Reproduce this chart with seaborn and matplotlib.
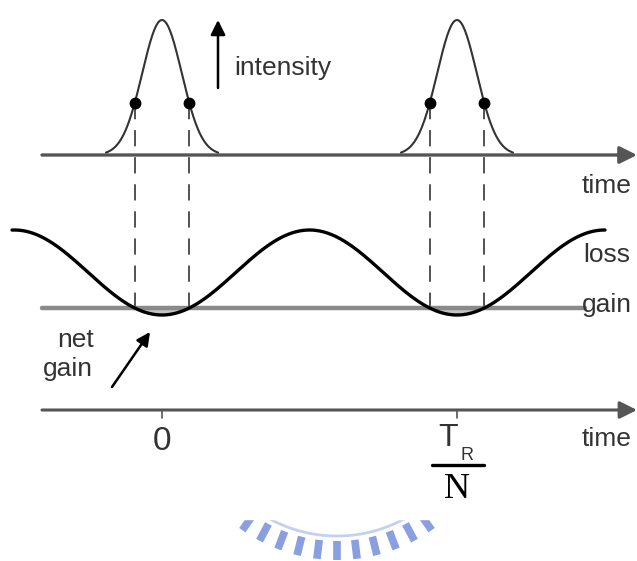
import numpy as np
import pandas as pd
import seaborn as sns
import matplotlib.pyplot as plt
from matplotlib.patches import Rectangle

# pulse train: pulse centres in units of T_R/N
pulse_times = [0.0, 1.0]
pulse_sigma = 0.067          # gaussian width (same units)
pulse_half_span = 0.19       # drawn part of each pulse
gain_cross = 0.093           # where loss == gain (dots / dashed lines)
tick_times = [0.0, 1.0]
tick_labels = ["0", "T_R/N"]

sns.set_theme(style="white")
plt.rcParams['font.family'] = ['Liberation Sans', 'DejaVu Sans']

fig = plt.figure(figsize=(6.37, 5.61), dpi=100)
ax = fig.add_axes([0, 0, 1, 1])
x0, scale = 162, 295  # pixel of t=0, pixels per T_R/N
ax.set_xlim((0 - x0) / scale, (637 - x0) / scale)
ax.set_ylim(561, 0)
ax.axis('off')

def t(px):
    return (px - x0) / scale

top_base, pulse_h = 155, 135
loss_mid, loss_amp = 272.5, 42.5
gain_y = loss_mid + loss_amp * np.cos(2 * np.pi * gain_cross)
time_y = 410

# pulses
rows = []
for i, tc in enumerate(pulse_times):
    tt = np.linspace(tc - pulse_half_span, tc + pulse_half_span, 200)
    inten = np.exp(-(tt - tc) ** 2 / (2 * pulse_sigma ** 2))
    rows.append(pd.DataFrame({"t": tt, "y": top_base - pulse_h * inten, "pulse": i}))
pulses = pd.concat(rows)
sns.lineplot(data=pulses, x="t", y="y", units="pulse", estimator=None,
             color="#333333", lw=1.5, ax=ax, zorder=3)

# top time axis
ax.annotate("", xy=(t(637), top_base), xytext=(t(42), top_base),
            arrowprops=dict(arrowstyle="-|>", color="#555555", lw=2.4,
                            mutation_scale=26, shrinkA=0, shrinkB=0), zorder=2)

# dots and dashed lines
dot_t = [tc + s * gain_cross for tc in pulse_times for s in (-1, 1)]
dot_i = np.exp(-gain_cross ** 2 / (2 * pulse_sigma ** 2))
dot_y = top_base - pulse_h * dot_i
for d in dot_t:
    ax.plot([d, d], [dot_y, gain_y], color="#444444", lw=1.3,
            dashes=(9, 6), zorder=2)
ax.plot(dot_t, [dot_y] * len(dot_t), 'o', color="black", ms=7.5, zorder=4)

# loss modulation
tl = np.linspace(t(12), t(605), 600)
loss = pd.DataFrame({"t": tl, "y": loss_mid + loss_amp * np.cos(2 * np.pi * tl)})
sns.lineplot(data=loss, x="t", y="y", color="black", lw=2.4, ax=ax, zorder=4)
ax.fill_between(tl, gain_y, loss["y"], where=loss["y"] > gain_y,
                color="#c4c4c4", zorder=2)

# gain level
ax.plot([t(42), t(585)], [gain_y, gain_y], color="#8a8a8a", lw=3.2, zorder=3)

# bottom time axis
ax.annotate("", xy=(t(637), time_y), xytext=(t(42), time_y),
            arrowprops=dict(arrowstyle="-|>", color="#555555", lw=2.2,
                            mutation_scale=26, shrinkA=0, shrinkB=0), zorder=2)
for tk in tick_times:
    ax.plot([tk, tk], [time_y, time_y + 8], color="#555555", lw=1.2)

# intensity arrow
ax.annotate("", xy=(t(218), 20), xytext=(t(218), 88),
            arrowprops=dict(arrowstyle="-|>", color="black", lw=1.8,
                            mutation_scale=22, shrinkA=0, shrinkB=0))
ax.text(t(234), 68, "intensity", fontsize=19, color="#333333", va="center", ha="left")

# net gain arrow
ax.annotate("", xy=(t(150), 332), xytext=(t(112), 387),
            arrowprops=dict(arrowstyle="-|>", color="black", lw=1.8,
                            mutation_scale=20, shrinkA=0, shrinkB=0))
ax.text(t(76), 340, "net", fontsize=19, color="#333333", ha="center", va="center")
ax.text(t(68), 369, "gain", fontsize=19, color="#333333", ha="center", va="center")

txt = dict(fontsize=19, color="#333333", ha="center", va="center")
ax.text(t(607), 186, "time", **txt)
ax.text(t(607), 255, "loss", **txt)
ax.text(t(607), 305, "gain", **txt)
ax.text(t(607), 439, "time", **txt)

# tick labels
ax.text(tick_times[0], 441, tick_labels[0], fontsize=24, color="#333333",
        ha="center", va="center")
ax.text(tick_times[1] - 0.03, 438, "T", fontsize=23, color="#333333",
        ha="center", va="center")
ax.text(tick_times[1] + 0.035, 455, "R", fontsize=13, color="#333333",
        ha="center", va="center")
ax.plot([t(432), t(484)], [465, 465], color="black", lw=2.4)
ax.text(tick_times[1], 489, "N", fontsize=26, color="black", ha="center",
        va="center", family="Liberation Serif")

# faint watermark arc at the bottom
wm = fig.add_axes([0, 0, 1, 1], zorder=-1)
wm.set_xlim(0, 637)
wm.set_ylim(561, 0)
wm.axis('off')
cx, cy = 337, 395
for a in np.deg2rad(np.arange(-42, 43, 7)):
    r1, r2 = 146, 165
    wm.plot([cx + r1 * np.sin(a), cx + r2 * np.sin(a)],
            [cy + r1 * np.cos(a), cy + r2 * np.cos(a)],
            color="#8a9fe0", lw=5.5, solid_capstyle="butt")
arc = np.deg2rad(np.linspace(-42, 42, 100))
wm.plot(cx + 141 * np.sin(arc), cy + 141 * np.cos(arc), color="#c5d0f0", lw=2)
wm.add_patch(Rectangle((200, 400), 280, 119, color="white", zorder=5))

fig.savefig("out.png", dpi=100)
